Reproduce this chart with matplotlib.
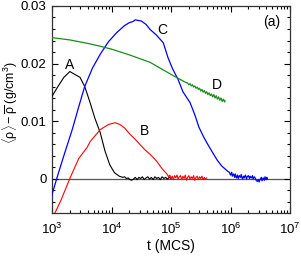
import numpy as np
import matplotlib
matplotlib.use("Agg")
import matplotlib.pyplot as plt
from matplotlib.ticker import FixedLocator, MultipleLocator, LogLocator, NullFormatter, FixedFormatter

plt.rcParams['font.family'] = ['Liberation Sans', 'DejaVu Sans']
plt.rcParams['mathtext.fontset'] = 'custom'
plt.rcParams['mathtext.rm'] = 'Liberation Sans'
plt.rcParams['mathtext.it'] = 'Liberation Sans'
plt.rcParams['mathtext.bf'] = 'Liberation Sans:bold'

# ---- data (log10 of t in MCS, and <rho> - rho_bar in g/cm^3) ----
A_logt = [3.00, 3.10, 3.20, 3.30, 3.40, 3.47, 3.55, 3.64, 3.72, 3.81, 3.89, 3.97, 4.05, 4.13,
          4.16, 4.19, 4.22, 4.25, 4.28, 4.31, 4.34, 4.37, 4.40, 4.43, 4.46, 4.49, 4.52, 4.55,
          4.58, 4.61, 4.64, 4.67, 4.70, 4.73, 4.76, 4.79, 4.82, 4.85, 4.88, 4.91, 4.94, 4.97,
          5.00]
A_val = [0.0143, 0.0160, 0.0176, 0.0186, 0.0180, 0.0176, 0.0160, 0.0132, 0.0105, 0.0080, 0.0048,
         0.0024, 0.0010, 0.0004, 0.0003, 0.0002, 0.0003, 0.0000, 0.0001, -0.0002, -0.0003,
         -0.0001, 0.0002, -0.0002, 0.0002, 0.0000, 0.0003, -0.0002, 0.0001, 0.0003, -0.0001,
         0.0002, -0.0002, 0.0003, 0.0000, 0.0002, -0.0002, 0.0003, 0.0000, 0.0002, -0.0001,
         0.0002, 0.0000]

B_logt = [3.05, 3.15, 3.30, 3.45, 3.59, 3.64, 3.81, 3.95, 4.06, 4.14, 4.22, 4.31, 4.40, 4.48,
          4.56, 4.65, 4.76, 4.85, 4.93,
          4.96, 4.98, 5.00, 5.02, 5.04, 5.06, 5.08, 5.10, 5.12, 5.14, 5.16, 5.18, 5.20, 5.22,
          5.24, 5.26, 5.28, 5.30, 5.32, 5.34, 5.36, 5.38, 5.40, 5.42, 5.44, 5.46, 5.48, 5.50,
          5.52, 5.54, 5.56, 5.58, 5.60]
B_val = [-0.0060, -0.0038, 0.0000, 0.0035, 0.0054, 0.0064, 0.0085, 0.0094, 0.0097, 0.0094,
         0.0088, 0.0077, 0.0068, 0.0059, 0.0050, 0.0042, 0.0030, 0.0017, 0.0008,
         0.0003, 0.0006, 0.0000, 0.0004, -0.0002, 0.0005, 0.0001, 0.0006, -0.0001, 0.0003,
         0.0005, -0.0002, 0.0004, 0.0000, 0.0006, -0.0003, 0.0002, 0.0005, -0.0001, 0.0003,
         0.0000, 0.0005, -0.0003, 0.0002, 0.0004, -0.0002, 0.0003, 0.0000, 0.0004, -0.0002,
         0.0002, -0.0001, 0.0001]

C_logt = [3.00, 3.08, 3.20, 3.34, 3.45, 3.55, 3.68, 3.81, 3.95, 4.09, 4.22, 4.30, 4.36, 4.40,
          4.44, 4.50, 4.58, 4.65, 4.75, 4.87, 4.95, 5.03, 5.12, 5.20, 5.32, 5.40, 5.47, 5.55,
          5.62, 5.70, 5.77, 5.85, 5.96,
          5.98, 6.00, 6.02, 6.03, 6.05, 6.07, 6.08, 6.10, 6.12, 6.13, 6.15, 6.17, 6.18, 6.20,
          6.22, 6.23, 6.25, 6.27, 6.28, 6.30, 6.32, 6.33, 6.35, 6.37, 6.38, 6.40, 6.42, 6.43,
          6.45, 6.47, 6.48, 6.50, 6.52, 6.53, 6.55, 6.57, 6.58, 6.60, 6.61, 6.62]
C_val = [-0.0028, 0.0000, 0.0040, 0.0085, 0.0125, 0.0160, 0.0192, 0.0216, 0.0238, 0.0254,
         0.0266, 0.0271, 0.0273, 0.0276, 0.0275, 0.0274, 0.0268, 0.0259, 0.0250, 0.0236,
         0.0210, 0.0190, 0.0172, 0.0151, 0.0132, 0.0111, 0.0089, 0.0072, 0.0059, 0.0045,
         0.0033, 0.0022, 0.0012,
         0.0011, 0.0006, 0.0011, 0.0004, 0.0008, 0.0002, 0.0008, 0.0001, 0.0006, 0.0000,
         0.0005, 0.0002, 0.0007, -0.0001, 0.0004, 0.0001, 0.0006, -0.0001, 0.0003, 0.0005,
         0.0000, 0.0004, 0.0001, 0.0005, -0.0001, 0.0003, 0.0000, -0.0003, -0.0005,
         -0.0002, -0.0006, -0.0001, 0.0002, -0.0004, 0.0001, -0.0003, 0.0003, -0.0002,
         0.0002, -0.0001]

D_logt = [3.00, 3.30, 3.60, 3.81, 4.00, 4.30, 4.65, 4.85, 5.07, 5.25,
          5.28, 5.30, 5.32, 5.34, 5.36, 5.38, 5.40, 5.42, 5.44, 5.46, 5.48, 5.50, 5.52,
          5.54, 5.56, 5.58, 5.60, 5.62, 5.64, 5.66, 5.68, 5.70, 5.72, 5.74, 5.76, 5.78,
          5.80, 5.82, 5.84, 5.86, 5.88, 5.90, 5.91]
D_val = [0.0245, 0.0241, 0.0235, 0.0230, 0.0225, 0.0215, 0.0202, 0.0190, 0.0177, 0.0167,
         0.0166, 0.0163, 0.0165, 0.0161, 0.0163, 0.0159, 0.0161, 0.0157, 0.0159, 0.0155,
         0.0157, 0.0152, 0.0155, 0.0150, 0.0153, 0.0148, 0.0151, 0.0146, 0.0149, 0.0144,
         0.0147, 0.0142, 0.0146, 0.0140, 0.0144, 0.0138, 0.0142, 0.0136, 0.0140, 0.0134,
         0.0138, 0.0133, 0.0135]

curve_labels = ['A', 'B', 'C', 'D']
panel_label = '(a)'
xtick_vals = [1e3, 1e4, 1e5, 1e6, 1e7]
xtick_labels = ['$10^3$', '$10^4$', '$10^5$', '$10^6$', '$10^7$']
ytick_vals = [0.0, 0.01, 0.02, 0.03]
ytick_labels = ['0', '0.01', '0.02', '0.03']

fig = plt.figure(figsize=(3.01, 2.56), dpi=100)
ax = fig.add_axes([52/301, 1-213/256, (290-52)/301, (213-6)/256])

ax.axhline(0, color='#555555', lw=0.9, zorder=1)
ax.plot(10**np.array(A_logt), A_val, color='black', lw=0.8, zorder=3)
ax.plot(10**np.array(B_logt), B_val, color='red', lw=0.8, zorder=3)
ax.plot(10**np.array(C_logt), C_val, color='blue', lw=0.9, zorder=3)
ax.plot(10**np.array(D_logt), D_val, color='#1a8c1a', lw=0.9, zorder=3)

ax.set_xscale('log')
ax.set_xlim(1e3, 1e7)
ax.set_ylim(-0.006, 0.03)

ax.xaxis.set_major_locator(FixedLocator(xtick_vals))
ax.xaxis.set_major_formatter(FixedFormatter(xtick_labels))
ax.xaxis.set_minor_locator(LogLocator(base=10, subs=np.arange(2, 10), numticks=20))
ax.xaxis.set_minor_formatter(NullFormatter())
ax.yaxis.set_major_locator(FixedLocator(ytick_vals))
ax.yaxis.set_major_formatter(FixedFormatter(ytick_labels))
ax.yaxis.set_minor_locator(MultipleLocator(0.002))

ax.tick_params(which='both', direction='in', top=True, right=True, labelsize=9.5, width=0.8)
ax.tick_params(which='major', length=4)
ax.tick_params(which='minor', length=2)
ax.tick_params(axis='y', which='major', pad=4)
ax.tick_params(axis='x', which='major', pad=6)
for s in ax.spines.values():
    s.set_linewidth(0.9)
    s.set_color('#333333')

ax.set_xlabel('t (MCS)', fontsize=10, labelpad=2)
ax.set_ylabel(r'$\langle\rho\rangle - \overline{\rho}$ (g/cm$^3$)', fontsize=9)
ax.yaxis.set_label_coords(-0.135, 0.535)

ax.text(2000, 0.0198, curve_labels[0], fontsize=10, ha='center', va='center')
ax.text(3.6e4, 0.0083, curve_labels[1], fontsize=10, ha='center', va='center')
ax.text(7.0e4, 0.0259, curve_labels[2], fontsize=10, ha='center', va='center')
ax.text(5.9e5, 0.0163, curve_labels[3], fontsize=10, ha='center', va='center')
ax.text(5.0e6, 0.0273, panel_label, fontsize=10, ha='center', va='center')

fig.savefig('out.png', dpi=100)
